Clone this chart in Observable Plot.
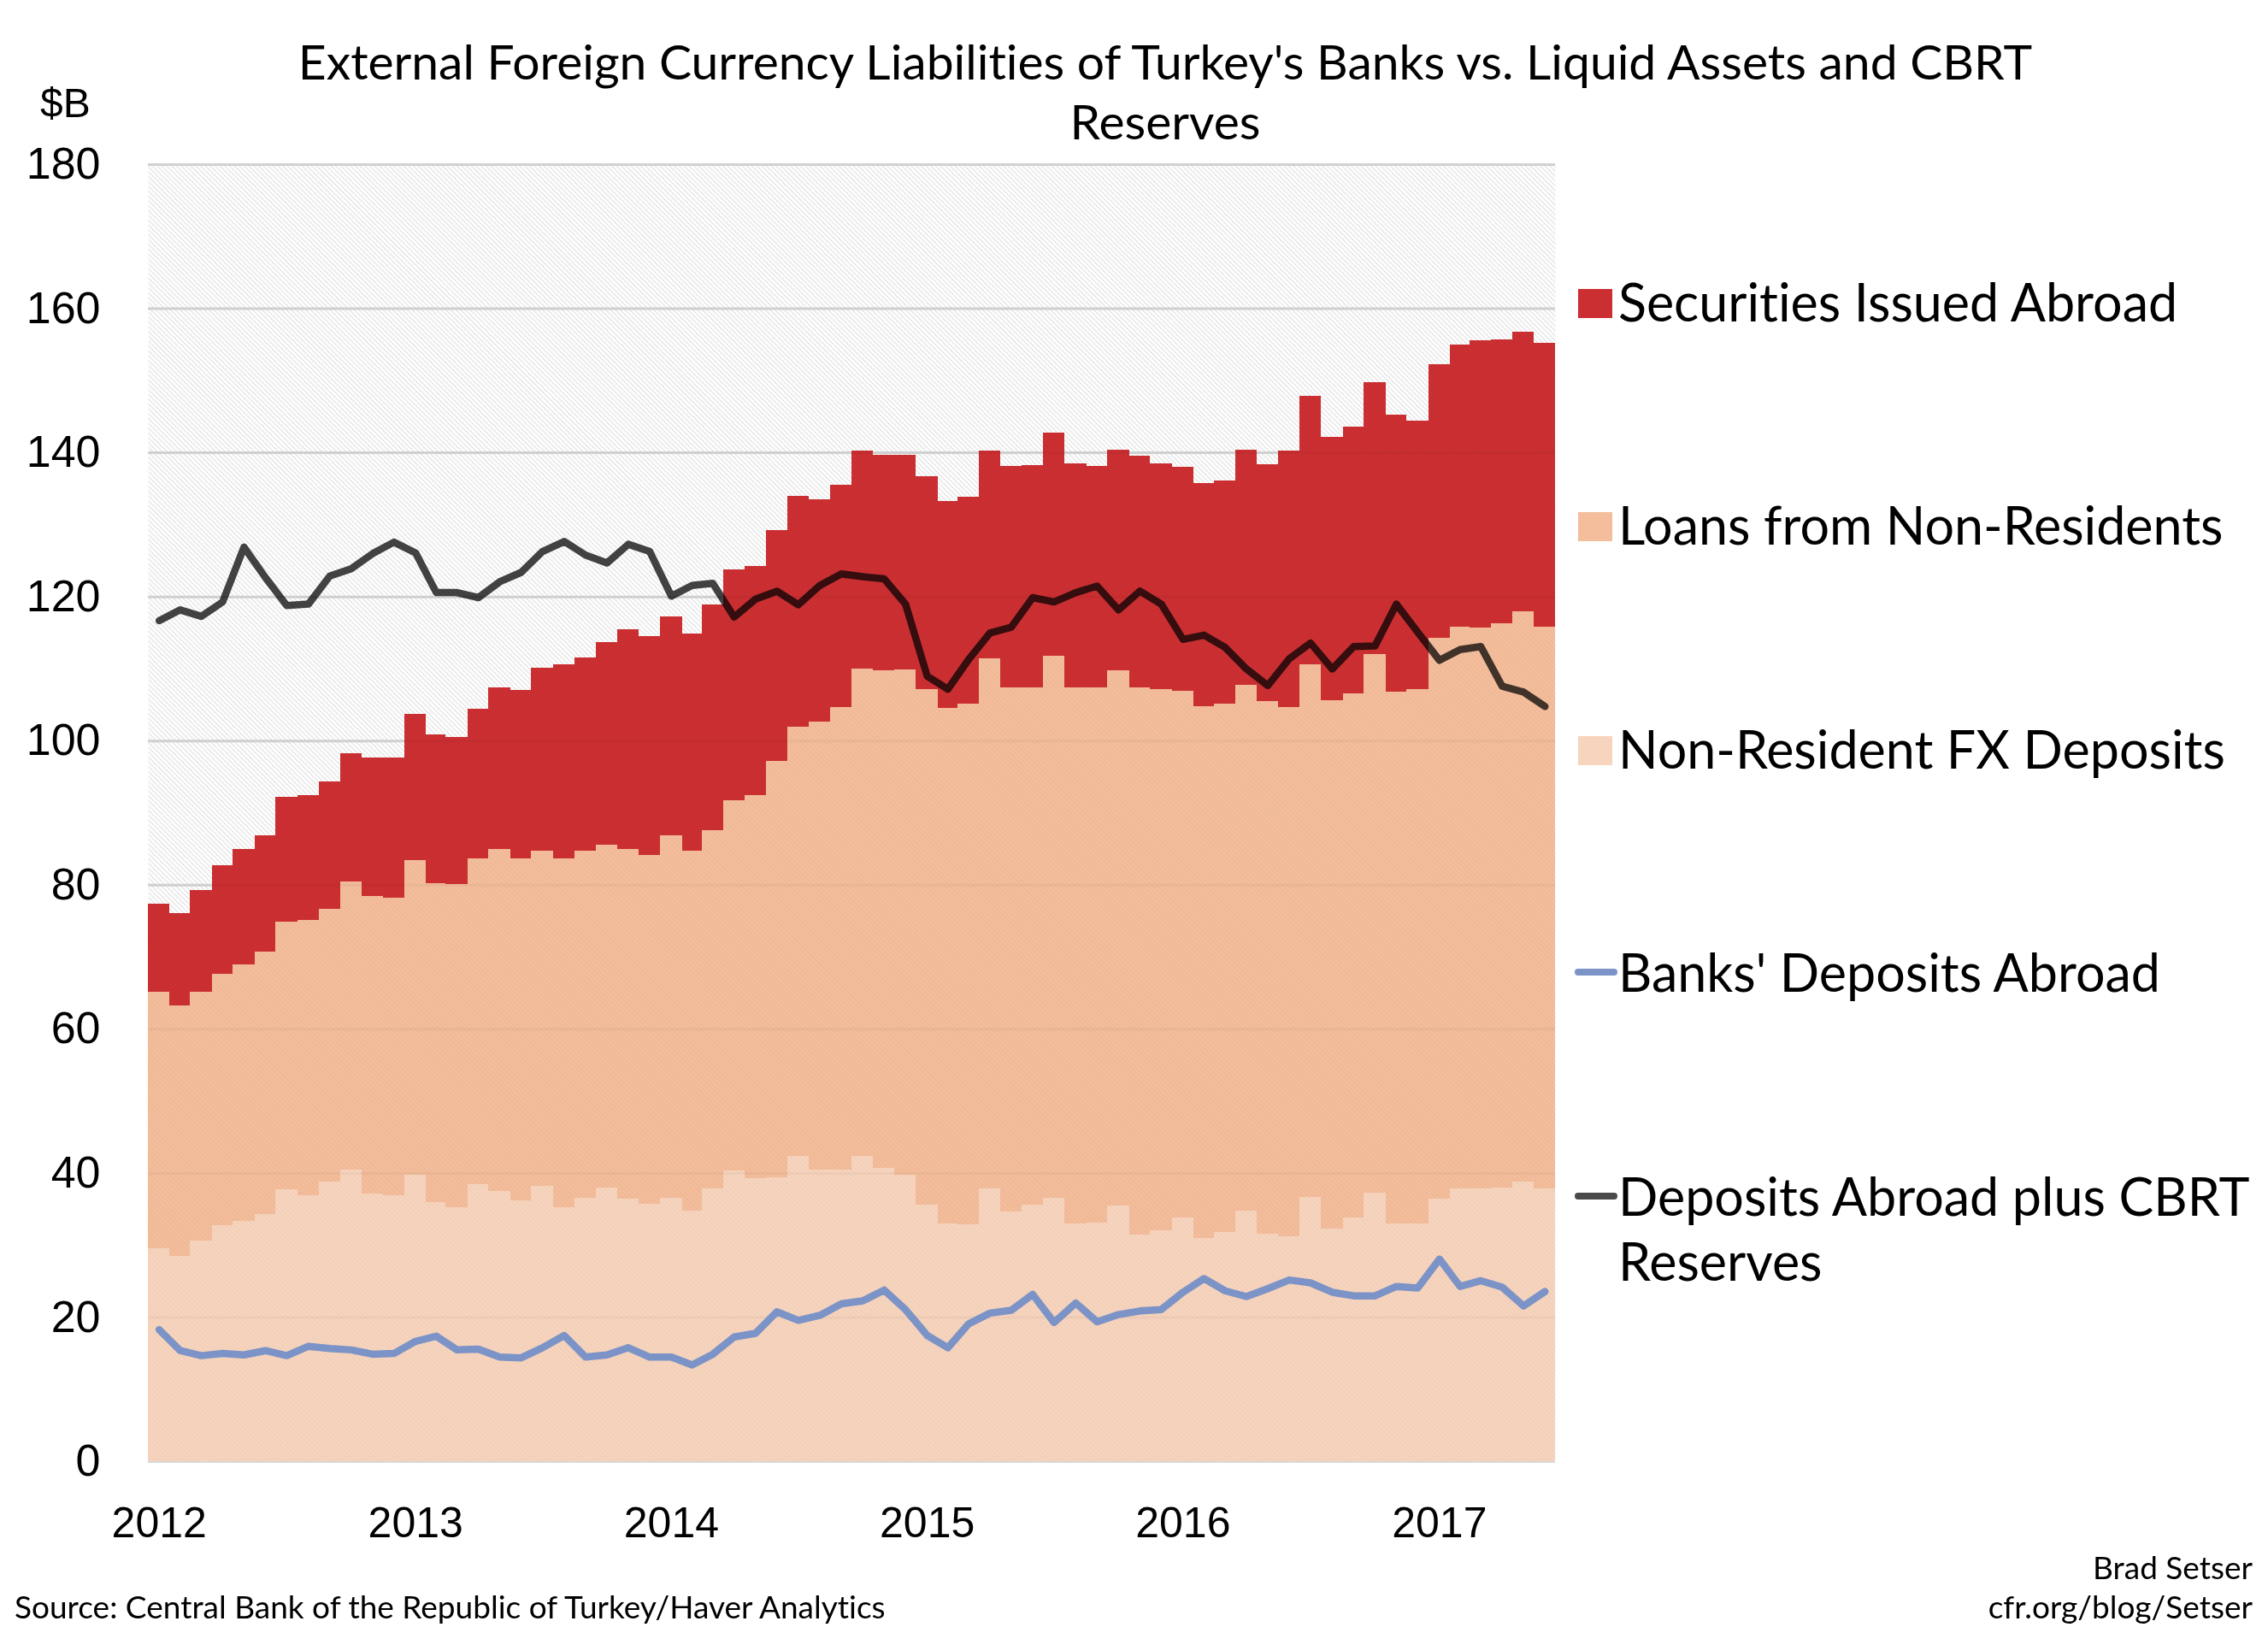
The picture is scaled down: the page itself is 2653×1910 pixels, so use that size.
<!DOCTYPE html>
<html>
<head>
<meta charset="utf-8">
<script src="https://cdn.jsdelivr.net/npm/d3@7"></script>
<script src="https://cdn.jsdelivr.net/npm/@observablehq/plot@0.6"></script>
<style>
  html, body { margin: 0; padding: 0; background: #fff; }
  #wrap { position: relative; width: 2653px; height: 1910px; overflow: hidden; font-family: Lato, "Open Sans", sans-serif; color: #000; font-variant-ligatures: none; font-feature-settings: "liga" 0, "clig" 0; }
  #chart { position: absolute; left: 0; top: 0; }
  .abs { position: absolute; white-space: nowrap; }
  #title { left: 163px; width: 2400px; top: 36px; text-align: center; font-size: 57px; line-height: 70px; }
  #unit { left: 47px; top: 93px; font-family: "Liberation Sans", Arial, sans-serif; font-size: 48px; }
  .leg { position: absolute; left: 1842px; font-size: 61px; line-height: 76px; }
  .sw { position: absolute; left: 4px; width: 40px; height: 34px; }
  .ln { position: absolute; left: 0; width: 50px; height: 8px; border-radius: 4px; }
  .lt { position: absolute; left: 51px; white-space: nowrap; }
  .src { font-size: 37px; }
</style>
</head>
<body>
<div id="wrap">
  <div id="chart"></div>
  <div id="title" class="abs">External Foreign Currency Liabilities of Turkey's Banks vs. Liquid Assets and CBRT<br>Reserves</div>
  <div id="unit" class="abs">$B</div>
  <div id="legend"></div>
  <div class="abs src" style="left:17px; top:1856px;">Source: Central Bank of the Republic of Turkey/Haver Analytics</div>
  <div class="abs src" style="right:18px; top:1810px; text-align:right;">Brad Setser</div>
  <div class="abs src" style="right:18px; top:1856px; text-align:right;">cfr.org/blog/Setser</div>
</div>
<script>
// ---- Data (monthly, Jan 2012 – Jun 2017, $B) ----
const seriesNames = ["Non-Resident FX Deposits", "Loans from Non-Residents", "Securities Issued Abroad"];
const seriesColors = ["#f7d4bd", "#f4bd9b", "#cc2f32"];

const nonResidentFXDeposits = [
  29.5, 28.5, 30.6, 32.7, 33.3, 34.3, 37.7, 36.9, 38.8, 40.5, 37.1, 36.9,
  39.8, 35.9, 35.2, 38.5, 37.5, 36.2, 38.2, 35.2, 36.5, 38.0, 36.4, 35.7,
  36.6, 34.8, 37.9, 40.4, 39.3, 39.4, 42.4, 40.5, 40.5, 42.4, 40.7, 39.8,
  35.6, 33.0, 32.9, 37.8, 34.6, 35.6, 36.5, 33.0, 33.1, 35.5, 31.5, 32.0,
  33.8, 31.0, 31.8, 34.8, 31.6, 31.2, 36.7, 32.3, 33.8, 37.3, 33.0, 33.0,
  36.4, 37.8, 37.8, 38.0, 38.8, 37.8
];
const loansFromNonResidents = [
  35.6, 34.8, 34.5, 34.9, 35.6, 36.4, 37.2, 38.2, 37.9, 39.9, 41.3, 41.3,
  43.6, 44.3, 44.9, 45.1, 47.5, 47.4, 46.5, 48.4, 48.2, 47.6, 48.5, 48.4,
  50.2, 49.9, 49.7, 51.3, 53.1, 57.8, 59.5, 62.1, 64.2, 67.6, 69.0, 70.1,
  71.6, 71.5, 72.2, 73.6, 72.8, 71.8, 75.3, 74.4, 74.3, 74.3, 75.9, 75.2,
  73.1, 73.8, 73.3, 72.9, 73.9, 73.5, 73.9, 73.3, 72.8, 74.7, 73.8, 74.1,
  77.9, 78.0, 77.9, 78.3, 79.1, 78.0
];
const securitiesIssuedAbroad = [
  12.3, 12.8, 14.2, 15.1, 16.1, 16.2, 17.3, 17.3, 17.6, 17.9, 19.2, 19.4,
  20.3, 20.7, 20.4, 20.8, 22.4, 23.4, 25.4, 27.0, 26.8, 28.1, 30.5, 30.4,
  30.4, 30.2, 31.3, 32.0, 31.8, 32.0, 32.1, 30.9, 30.8, 30.3, 29.9, 29.8,
  29.5, 28.7, 28.8, 28.8, 30.7, 30.8, 31.0, 31.1, 30.7, 30.6, 32.1, 31.3,
  31.1, 30.9, 31.0, 32.7, 32.8, 35.6, 37.3, 36.6, 37.0, 37.8, 38.4, 37.3,
  37.9, 39.2, 39.8, 39.4, 38.9, 39.4
];
const banksDepositsAbroad = [
  18.3, 15.4, 14.7, 15.0, 14.8, 15.4, 14.7, 16.0, 15.7, 15.5, 14.9, 15.0,
  16.7, 17.4, 15.5, 15.6, 14.5, 14.4, 15.8, 17.5, 14.5, 14.8, 15.8, 14.5,
  14.5, 13.4, 14.9, 17.3, 17.8, 20.8, 19.6, 20.3, 21.9, 22.3, 23.8, 21.1,
  17.5, 15.8, 19.1, 20.6, 21.0, 23.2, 19.3, 22.0, 19.4, 20.4, 20.9, 21.1,
  23.5, 25.4, 23.7, 22.9, 24.0, 25.2, 24.8, 23.5, 23.0, 23.0, 24.3, 24.1,
  28.1, 24.3, 25.1, 24.2, 21.6, 23.6
];
const depositsAbroadPlusCBRTReserves = [
  116.7, 118.2, 117.3, 119.3, 126.9, 122.7, 118.8, 119.0, 122.9, 123.9, 126.0, 127.6,
  126.1, 120.6, 120.6, 119.9, 122.1, 123.4, 126.3, 127.7, 125.8, 124.7, 127.3, 126.3,
  120.1, 121.6, 121.9, 117.2, 119.7, 120.8, 118.9, 121.6, 123.2, 122.8, 122.5, 119.0,
  109.0, 107.2, 111.3, 115.0, 115.8, 119.9, 119.3, 120.6, 121.5, 118.2, 120.8, 119.0,
  114.1, 114.7, 113.0, 110.0, 107.7, 111.4, 113.6, 110.0, 113.1, 113.2, 119.0, 115.1,
  111.2, 112.7, 113.1, 107.6, 106.8, 104.8
];
const yearLabels = ["2012", "2013", "2014", "2015", "2016", "2017"];
const yTicks = [0, 20, 40, 60, 80, 100, 120, 140, 160, 180];
const lineNames = ["Banks' Deposits Abroad", "Deposits Abroad plus CBRT Reserves"];
const lineColors = ["#7b93c7", "#444444"];

// ---- Build tables ----
const start = new Date(Date.UTC(2012, 0, 1));
const months = d3.utcMonth.range(start, d3.utcMonth.offset(start, nonResidentFXDeposits.length));
const end = d3.utcMonth.offset(months[months.length - 1], 1);
const mid = m => new Date((m.getTime() + d3.utcMonth.offset(m, 1).getTime()) / 2);

const stackSeries = [nonResidentFXDeposits, loansFromNonResidents, securitiesIssuedAbroad];
const stackData = months.flatMap((m, i) => stackSeries.map((s, k) => ({date: m, series: seriesNames[k], value: s[i]})));
const blueData = months.map((m, i) => ({x: mid(m), value: banksDepositsAbroad[i]}));
const darkData = months.map((m, i) => ({x: mid(m), value: depositsAbroadPlusCBRTReserves[i]}));
const xTicks = yearLabels.map(y => mid(new Date(Date.UTC(+y, 0, 1))));

const chart = Plot.plot({
  width: 2653,
  height: 1910,
  marginLeft: 173,
  marginRight: 834,
  marginTop: 192,
  marginBottom: 201,
  style: {fontFamily: "'Liberation Sans', Arial, sans-serif", fontSize: "51px", background: "transparent", color: "#000"},
  x: {type: "utc", domain: [start, end]},
  y: {domain: [0, 180]},
  color: {domain: seriesNames, range: seriesColors},
  marks: [
    Plot.frame({fill: "url(#hatchBg)", stroke: null}),
    Plot.ruleY(yTicks, {stroke: "#d9d9d9", strokeWidth: 3}),
    Plot.rectY(stackData, {x: "date", interval: d3.utcMonth, y: "value", fill: "series", inset: 0, shapeRendering: "crispEdges"}),
    Plot.ruleY(yTicks.slice(1), {stroke: "#000", strokeOpacity: 0.03, strokeWidth: 3}),
    Plot.frame({fill: "url(#hatchOver)", stroke: null}),
    Plot.line(blueData, {x: "x", y: "value", stroke: lineColors[0], strokeWidth: 8.5, strokeLinejoin: "round", strokeLinecap: "round"}),
    Plot.line(darkData, {x: "x", y: "value", stroke: lineColors[1], strokeWidth: 8.5, strokeLinejoin: "round", strokeLinecap: "round", mixBlendMode: "multiply"}),
    Plot.axisY(yTicks, {tickSize: 0, tickPadding: 56, fontSize: 52, label: null}),
    Plot.axisX(xTicks, {tickSize: 0, tickPadding: 53, fontSize: 50, label: null, tickFormat: (d, i) => yearLabels[i]})
  ]
});

chart.insertAdjacentHTML("afterbegin",
  '<defs>' +
  '<pattern id="hatchBg" width="4" height="4" patternUnits="userSpaceOnUse" patternTransform="rotate(-45)">' +
  '<rect width="4" height="4" fill="#ffffff"/><rect width="1.3" height="4" fill="#ebebeb"/></pattern>' +
  '<pattern id="hatchOver" width="4" height="4" patternUnits="userSpaceOnUse" patternTransform="rotate(-45)">' +
  '<rect width="1.3" height="4" fill="#000" fill-opacity="0.03"/></pattern>' +
  '</defs>');
document.getElementById("chart").appendChild(chart);

// ---- Legend ----
const legendItems = [
  {name: seriesNames[2], type: "box", color: seriesColors[2]},
  {name: seriesNames[1], type: "box", color: seriesColors[1]},
  {name: seriesNames[0], type: "box", color: seriesColors[0]},
  {name: lineNames[0], type: "line", color: lineColors[0]},
  {name: "Deposits Abroad plus CBRT<br>Reserves", type: "line", color: "#4a4a4a"}
];
const legendCenters = [353, 614, 876, 1137, 1399];
const legend = document.getElementById("legend");
legendItems.forEach((it, i) => {
  const c = legendCenters[i];
  const d = document.createElement("div");
  d.className = "leg";
  d.style.top = (c - 38) + "px";
  const mark = it.type === "box"
    ? `<div class="sw" style="top:23px; background:${it.color}"></div>`
    : `<div class="ln" style="top:34px; background:${it.color}"></div>`;
  d.innerHTML = mark + `<div class="lt">${it.name}</div>`;
  legend.appendChild(d);
});
</script>
</body>
</html>
